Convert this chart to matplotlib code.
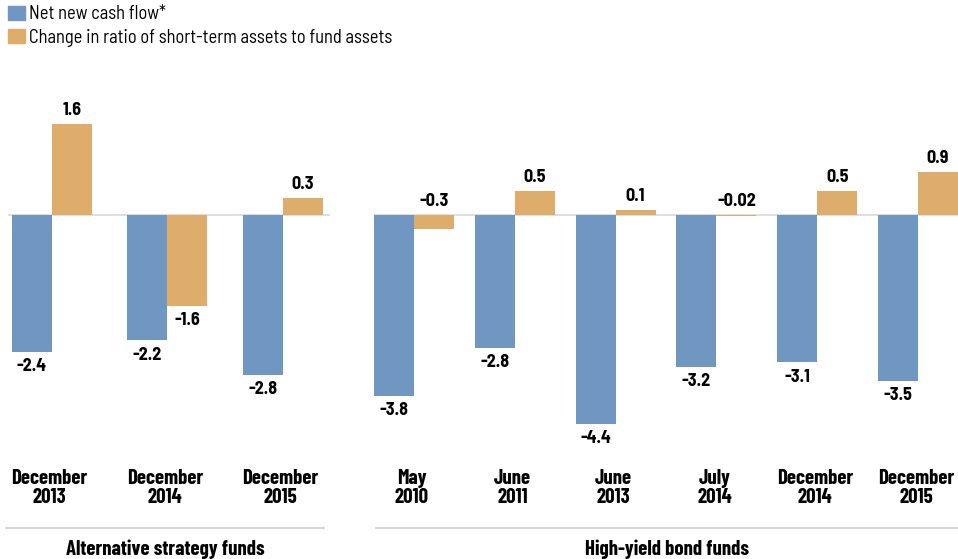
import matplotlib
matplotlib.use('Agg')
import matplotlib.pyplot as plt
import matplotlib.transforms as mtransforms
from matplotlib.patches import Patch
from matplotlib import font_manager as fm

# narrow fonts like the original, whichever is installed
have = set(f.name for f in fm.fontManager.ttflist)
def pick(prefs):
    fs = [f for f in prefs if f in have]
    return fs[:1] + ['DejaVu Sans']
SEMI = pick(['Barlow Semi Condensed', 'Asap Condensed', 'Archivo Narrow', 'Liberation Sans'])
COND = pick(['Barlow Condensed', 'Barlow Semi Condensed', 'Asap Condensed', 'Liberation Sans'])
plt.rcParams['font.family'] = SEMI

# data
alt_labels = ['December\n2013', 'December\n2014', 'December\n2015']
alt_cash = [-2.4, -2.2, -2.8]
alt_ratio = [1.6, -1.6, 0.3]
alt_ratio_txt = ['1.6', '-1.6', '0.3']

hy_labels = ['May\n2010', 'June\n2011', 'June\n2013', 'July\n2014', 'December\n2014', 'December\n2015']
hy_cash = [-3.8, -2.8, -4.4, -3.2, -3.1, -3.5]
hy_ratio = [-0.3, 0.5, 0.1, -0.02, 0.5, 0.9]
hy_ratio_txt = ['-0.3', '0.5', '0.1', '-0.02', '0.5', '0.9']

BLUE = '#7097c1'
ORANGE = '#dfad6b'
W, H = 958, 559
FS = 13      # value labels
FC = 15      # category labels / panel titles

fig = plt.figure(figsize=(W / 100, H / 100), dpi=100)


def px_axes(x0, x1, y0, y1):
    # pixel box (top-left origin) -> figure fraction axes
    return fig.add_axes([x0 / W, 1 - y1 / H, (x1 - x0) / W, (y1 - y0) / H])


def panel(ax, labels, cash, ratio, ratio_txt, bw, xlim, ylim, title, sep):
    x = list(range(len(labels)))
    ax.bar([i - bw / 2 for i in x], cash, bw, color=BLUE)
    ax.bar([i + bw / 2 for i in x], ratio, bw, color=ORANGE)
    ax.axhline(0, color='#d8d8d8', lw=1.2, zorder=0)
    ax.set_xlim(*xlim)
    ax.set_ylim(*ylim)
    ax.axis('off')
    for i, v in enumerate(cash):
        ax.annotate('%.1f' % v, (i - bw / 2, v), xytext=(0, -4.5), textcoords='offset points',
                    ha='center', va='top', fontsize=FS, fontweight='bold')
    for i, v in enumerate(ratio):
        y = v if v > 0 or v < -0.5 else 0
        if y >= 0:
            ax.annotate(ratio_txt[i], (i + bw / 2, y), xytext=(0, 3.5), textcoords='offset points',
                        ha='center', va='bottom', fontsize=FS, fontweight='bold')
        else:
            ax.annotate(ratio_txt[i], (i + bw / 2, y), xytext=(0, -4.5), textcoords='offset points',
                        ha='center', va='top', fontsize=FS, fontweight='bold')
    tr = mtransforms.blended_transform_factory(ax.transData, fig.transFigure)
    for i, lab in enumerate(labels):
        ax.text(i - 0.02, 1 - 488 / H, lab, transform=tr, ha='center', va='center',
                fontsize=FC, fontweight='bold', family=COND, linespacing=0.95)
    fig.add_artist(plt.Line2D([sep[0] / W, sep[1] / W], [1 - 528 / H] * 2,
                              color='#cccccc', lw=1.2))
    fig.text((sep[0] + sep[1]) / 2 / W, 1 - 549 / H, title, ha='center', va='center',
             fontsize=FC, fontweight='bold', family=COND)


# left panel: 57 px per unit, zero at y=215
axl = px_axes(8, 330, 100, 440)
panel(axl, alt_labels, alt_cash, alt_ratio, alt_ratio_txt, 40 / 115.5,
      (-(52 - 8) / 115.5, (330 - 52) / 115.5), (-(440 - 215) / 57, (215 - 100) / 57),
      'Alternative strategy funds', (6, 324))

# right panel: 47.5 px per unit
axr = px_axes(374, 958, 100, 440)
panel(axr, hy_labels, hy_cash, hy_ratio, hy_ratio_txt, 40 / 100.8,
      (-(414 - 374) / 100.8, (958 - 414) / 100.8), (-(440 - 215) / 47.5, (215 - 100) / 47.5),
      'High-yield bond funds', (376, 958))

handles = [Patch(color=BLUE, label='Net new cash flow*'),
           Patch(color=ORANGE, label='Change in ratio of short-term assets to fund assets')]
fig.legend(handles=handles, loc='upper left', bbox_to_anchor=(8 / W, 1 - 5 / H), frameon=False,
           fontsize=13.3, handlelength=0.9, handleheight=0.8, handletextpad=0.25,
           labelspacing=0.3, borderaxespad=0, borderpad=0)

fig.savefig('out.png', dpi=100)
